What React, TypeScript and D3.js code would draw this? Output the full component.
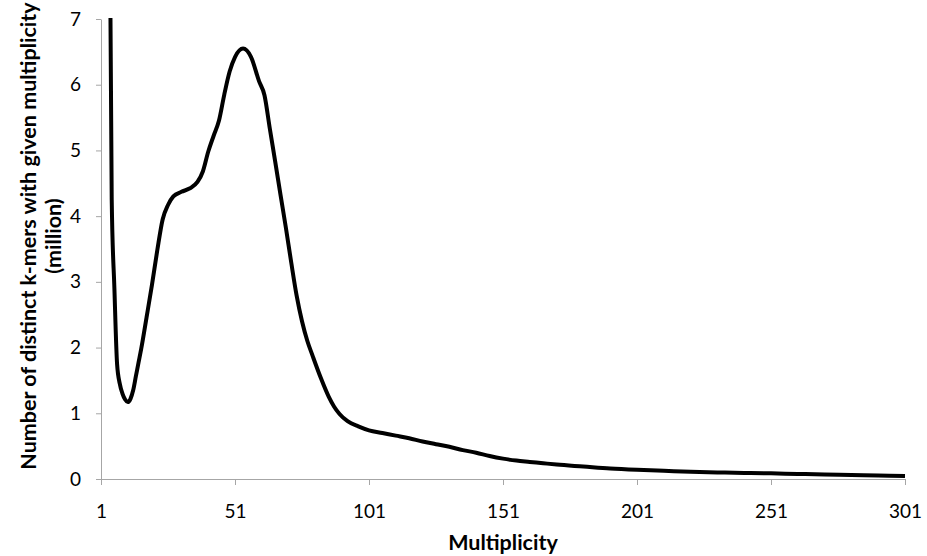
import React, { useEffect, useRef } from "react";
import * as d3 from "d3";

// k-mer multiplicity (x) and number of distinct k-mers in millions (y)
const multiplicity = [
  1, 2, 3, 4, 5, 6, 7, 8, 9, 10, 11, 12, 13, 14, 15, 16, 18, 20, 22, 24, 26, 28,
  31, 34, 37, 39, 41, 43, 45, 47, 49, 51, 54, 57, 60, 62, 64, 66, 68, 70, 72,
  74, 76, 78, 80, 83, 86, 88, 90, 93, 97, 101, 106, 111, 116, 121, 126, 131,
  136, 141, 146, 151, 156, 161, 166, 171, 181, 191, 201, 211, 221, 231, 241,
  251, 261, 271, 281, 291, 301,
];
const kmerMillions = [
  60, 30, 17, 10.6, 4.25, 2.9, 1.75, 1.45, 1.3, 1.21, 1.17, 1.22, 1.35, 1.56,
  1.77, 1.98, 2.46, 2.95, 3.48, 3.95, 4.17, 4.3, 4.37, 4.42, 4.52, 4.68, 4.98,
  5.22, 5.45, 5.85, 6.2, 6.42, 6.55, 6.42, 6.05, 5.84, 5.33, 4.83, 4.32, 3.82,
  3.29, 2.79, 2.4, 2.1, 1.87, 1.54, 1.25, 1.1, 0.99, 0.88, 0.8, 0.74, 0.7, 0.66,
  0.62, 0.57, 0.53, 0.49, 0.44, 0.4, 0.35, 0.31, 0.28, 0.26, 0.24, 0.22, 0.19,
  0.16, 0.14, 0.125, 0.11, 0.1, 0.092, 0.086, 0.077, 0.07, 0.062, 0.054, 0.047,
];
const xTicks = [1, 51, 101, 151, 201, 251, 301];
const yTicks = [0, 1, 2, 3, 4, 5, 6, 7];

const App = () => {
  const ref = useRef<SVGSVGElement>(null);
  const width = 927;
  const height = 556;
  const margin = { top: 19, right: 22, bottom: 77, left: 101 };

  useEffect(() => {
    const svg = d3.select(ref.current);
    svg.selectAll("*").remove();

    const x = d3
      .scaleLinear()
      .domain([1, 301])
      .range([margin.left, width - margin.right]);
    const y = d3
      .scaleLinear()
      .domain([0, 7])
      .range([height - margin.bottom, margin.top]);

    const font = "Lato, 'Open Sans', sans-serif";
    const axisColor = "#a6a6a6";

    // y axis
    const yAxis = svg
      .append("g")
      .attr("transform", `translate(${margin.left},0)`)
      .call(
        d3
          .axisLeft(y)
          .tickValues(yTicks)
          .tickFormat(d3.format("d"))
          .tickSize(5)
          .tickSizeOuter(0)
          .tickPadding(15)
      );
    yAxis.select(".domain").attr("stroke", axisColor);
    yAxis.selectAll(".tick line").attr("stroke", axisColor);
    yAxis
      .selectAll(".tick text")
      .attr("font-family", font)
      .attr("font-size", 19)
      .attr("fill", "#000");

    // x axis
    const xAxis = svg
      .append("g")
      .attr("transform", `translate(0,${height - margin.bottom})`)
      .call(
        d3
          .axisBottom(x)
          .tickValues(xTicks)
          .tickFormat(d3.format("d"))
          .tickSize(6)
          .tickSizeOuter(0)
          .tickPadding(20)
      );
    xAxis.select(".domain").attr("stroke", axisColor);
    xAxis.selectAll(".tick line").attr("stroke", axisColor);
    xAxis
      .selectAll(".tick text")
      .attr("font-family", font)
      .attr("font-size", 19)
      .attr("fill", "#000");

    // clip so the huge low-multiplicity counts run off the top
    svg
      .append("clipPath")
      .attr("id", "plot-clip")
      .append("rect")
      .attr("x", margin.left)
      .attr("y", margin.top - 1)
      .attr("width", width - margin.left - margin.right + 5)
      .attr("height", height - margin.top - margin.bottom + 5);

    const points: [number, number][] = multiplicity.map((m, i) => [m, kmerMillions[i]]);
    const line = d3
      .line<[number, number]>()
      .x((d) => x(d[0]))
      .y((d) => y(d[1]))
      .curve(d3.curveMonotoneX);

    svg
      .append("path")
      .datum(points)
      .attr("clip-path", "url(#plot-clip)")
      .attr("fill", "none")
      .attr("stroke", "#000")
      .attr("stroke-width", 4)
      .attr("stroke-linejoin", "round")
      .attr("d", line);

    // axis titles
    svg
      .append("text")
      .attr("x", (margin.left + width - margin.right) / 2)
      .attr("y", 550)
      .attr("text-anchor", "middle")
      .attr("font-family", font)
      .attr("font-weight", "bold")
      .attr("font-size", 21.5)
      .text("Multiplicity");

    const yTitle = svg
      .append("text")
      .attr("transform", "translate(0,236) rotate(-90)")
      .attr("text-anchor", "middle")
      .attr("font-family", font)
      .attr("font-weight", "bold")
      .attr("font-size", 21.5);
    yTitle
      .append("tspan")
      .attr("x", 0)
      .attr("y", 36)
      .text("Number of distinct k-mers with given multiplicity");
    yTitle.append("tspan").attr("x", 0).attr("y", 61).text("(million)");
  }, []);

  return (
    <svg
      ref={ref}
      width={width}
      height={height}
      style={{ position: "absolute", left: 0, top: 0, background: "#fff" }}
    />
  );
};

export default App;
